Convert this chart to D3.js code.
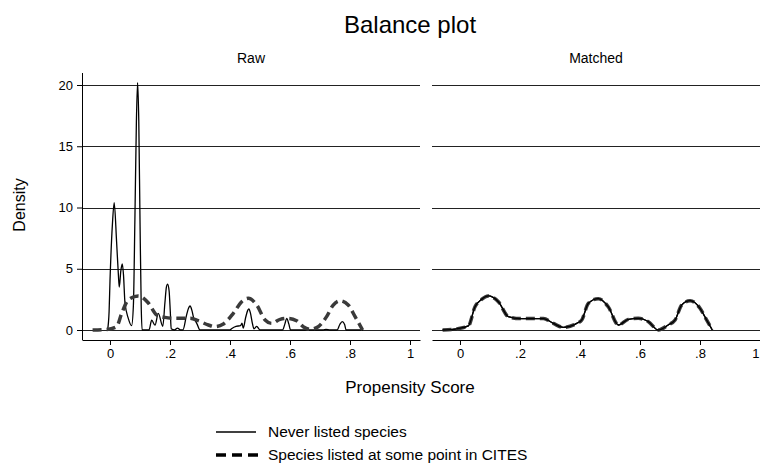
<!DOCTYPE html>
<html>
<head>
<meta charset="utf-8">
<script src="https://cdn.jsdelivr.net/npm/d3@7/dist/d3.min.js"></script>
<style>
  html, body { margin: 0; padding: 0; background: #fff; }
  svg { display: block; font-family: "Liberation Sans", Arial, sans-serif; }
</style>
</head>
<body>
<svg id="chart" width="760" height="469"></svg>
<script>
// ---- data ----
const panelTitles = ["Raw", "Matched"];
const xTicks = [0, 0.2, 0.4, 0.6, 0.8, 1];
const xTickLabels = ["0", ".2", ".4", ".6", ".8", "1"];
const yTicks = [0, 5, 10, 15, 20];
const seriesNames = ["Never listed species", "Species listed at some point in CITES"];

// Raw: never listed (solid)
const rawNeverX = [-0.008,-0.003,0.0,0.008,0.014,0.022,0.028,0.031,0.036,0.041,0.045,0.05,0.061,0.072,0.078,0.083,0.088,0.092,0.096,0.1,0.104,0.107,
  0.13,0.139,0.15,0.161,0.176,0.183,0.188,0.192,0.197,0.201,0.204,0.215,0.225,0.235,0.243,0.255,0.262,0.267,0.273,0.28,0.283,0.29,0.3,
  0.4,0.405,0.42,0.435,0.44,0.444,0.452,0.459,0.463,0.468,0.475,0.48,0.489,0.5,
  0.575,0.583,0.589,0.596,0.602,0.71,0.72,0.733,0.757,0.766,0.774,0.782,0.787,0.843];
const rawNeverY = [0,1.5,4.0,8.6,10.4,7.2,4.5,3.5,4.8,5.4,4.5,2.2,0.95,0.35,2,9,17,20.2,17,9,2,0,
  0,0.8,0.4,1.35,0.3,2.2,3.5,3.75,3.2,1.5,0.1,0,0.15,0,0,1.2,1.8,1.96,1.6,0.9,0.8,0.5,0,
  0,0.1,0.3,0.35,0.55,0.15,1.0,1.6,1.72,1.4,0.5,0.1,0.3,0,
  0,0.5,0.95,0.5,0,0,0.05,0,0,0.45,0.68,0.45,0,0];

// Raw: listed (dashed)
const rawListedX = [-0.058,-0.011,0.022,0.039,0.061,0.094,0.128,0.156,0.183,0.222,0.267,0.294,0.328,0.35,0.378,0.411,0.439,0.461,0.489,0.517,0.539,0.567,0.594,0.622,0.644,0.667,0.694,0.722,0.744,0.767,0.794,0.817,0.842];
const rawListedY = [0,0.05,0.27,1.36,2.45,2.78,2.2,1.22,1.03,0.95,0.95,0.76,0.41,0.27,0.49,1.36,2.31,2.59,2.04,0.82,0.54,0.87,0.95,0.76,0.27,0.05,0.27,1.09,2.04,2.39,2.04,1.09,0];

// Matched: both groups (overlapping)
const matchedX = [-0.058,-0.011,0.028,0.05,0.072,0.094,0.128,0.161,0.2,0.244,0.278,0.311,0.344,0.389,0.406,0.428,0.461,0.494,0.528,0.561,0.594,0.628,0.661,0.694,0.717,0.739,0.767,0.8,0.822,0.841];
const matchedListedY = [0,0.1,0.33,1.9,2.5,2.78,2.31,1.09,0.93,0.93,0.93,0.54,0.22,0.54,0.82,2.18,2.56,1.9,0.41,0.87,0.95,0.68,0.0,0.41,0.82,2.04,2.39,1.77,0.82,0];
const matchedNeverY = [0,0.1,0.33,1.9,2.5,2.78,2.31,1.09,0.93,0.93,0.93,0.54,0.22,0.54,0.82,2.18,2.56,1.9,0.41,0.87,0.95,0.68,0.0,0.41,0.82,2.04,2.39,1.77,0.82,0];

// ---- layout ----
const W = 760;
const svg = d3.select("#chart");
const panels = [
  { title: panelTitles[0], x0: 82, x1: 420, never: d3.zip(rawNeverX, rawNeverY), listed: d3.zip(rawListedX, rawListedY), yaxis: true },
  { title: panelTitles[1], x0: 432, x1: 770, never: d3.zip(matchedX, matchedNeverY), listed: d3.zip(matchedX, matchedListedY), yaxis: false }
];
const xDomain = [-0.0933, 1.0333];
const y = d3.scaleLinear().domain([0, 20]).range([330, 85]);
const yTop = 73, yBottom = 340;
const FONT = '"Liberation Sans", Arial, sans-serif';

svg.append("text").attr("x", 410).attr("y", 33).attr("text-anchor", "middle")
  .attr("font-size", 24).attr("fill", "#000").text("Balance plot");

panels.forEach(p => {
  const x = d3.scaleLinear().domain(xDomain).range([p.x0, p.x1]);
  const g = svg.append("g");
  const right = Math.min(p.x1, W);
  g.append("text").attr("x", (p.x0 + right) / 2).attr("y", 63).attr("text-anchor", "middle")
    .attr("font-size", 14).text(p.title);

  // gridlines
  g.selectAll("line.grid").data(yTicks).join("line")
    .attr("x1", p.x0).attr("x2", right)
    .attr("y1", d => Math.round(y(d)) + 0.5).attr("y2", d => Math.round(y(d)) + 0.5)
    .attr("stroke", "#222").attr("stroke-width", 1);

  // x axis
  const xa = g.append("g").attr("transform", `translate(0,${yBottom})`)
    .call(d3.axisBottom(x).tickValues(xTicks).tickFormat((d, i) => xTickLabels[i]).tickSize(5).tickPadding(4).tickSizeOuter(0));
  xa.select(".domain").attr("stroke", "#000");
  xa.selectAll(".tick line").attr("stroke", "#000");
  xa.selectAll(".tick text").attr("font-size", 13).attr("fill", "#000").attr("font-family", FONT);
  // keep a label that would fall past the page edge inside it
  xa.selectAll(".tick").filter(d => x(d) > W - 4).select("text")
    .attr("text-anchor", "end").attr("dx", W - 1 - x(1));

  if (p.yaxis) {
    const ya = g.append("g").attr("transform", `translate(${p.x0},0)`)
      .call(d3.axisLeft(y).tickValues(yTicks).tickSize(5).tickPadding(4).tickSizeOuter(0));
    ya.select(".domain").attr("d", `M0.5,${yTop}V${yBottom}`).attr("stroke", "#000");
    ya.selectAll(".tick line").attr("stroke", "#000");
    ya.selectAll(".tick text").attr("font-size", 13).attr("fill", "#000").attr("font-family", FONT);
  }

  const line = d3.line().x(d => x(d[0])).y(d => y(d[1])).curve(d3.curveMonotoneX);
  g.append("path").attr("d", line(p.never)).attr("fill", "none")
    .attr("stroke", "#000").attr("stroke-width", 1.3);
  g.append("path").attr("d", line(p.listed)).attr("fill", "none")
    .attr("stroke", "#3a3a3a").attr("stroke-width", 3.5).attr("stroke-dasharray", "9,5");
  if (!p.yaxis) {
    g.append("path").attr("d", line(p.never)).attr("fill", "none")
      .attr("stroke", "#000").attr("stroke-width", 1.3);
  }
});

// axis titles
svg.append("text").attr("transform", "translate(25,205) rotate(-90)").attr("text-anchor", "middle")
  .attr("font-size", 16).text("Density");
svg.append("text").attr("x", 410).attr("y", 393).attr("text-anchor", "middle")
  .attr("font-size", 17).text("Propensity Score");

// legend
const leg = svg.append("g");
leg.append("line").attr("x1", 216).attr("x2", 256).attr("y1", 432).attr("y2", 432)
  .attr("stroke", "#000").attr("stroke-width", 1.3);
leg.append("line").attr("x1", 216).attr("x2", 258).attr("y1", 455).attr("y2", 455)
  .attr("stroke", "#000").attr("stroke-width", 3.5).attr("stroke-dasharray", "10,6");
leg.append("text").attr("x", 268).attr("y", 437).attr("font-size", 15.5).text(seriesNames[0]);
leg.append("text").attr("x", 268).attr("y", 460).attr("font-size", 15.5).text(seriesNames[1]);
</script>
</body>
</html>
